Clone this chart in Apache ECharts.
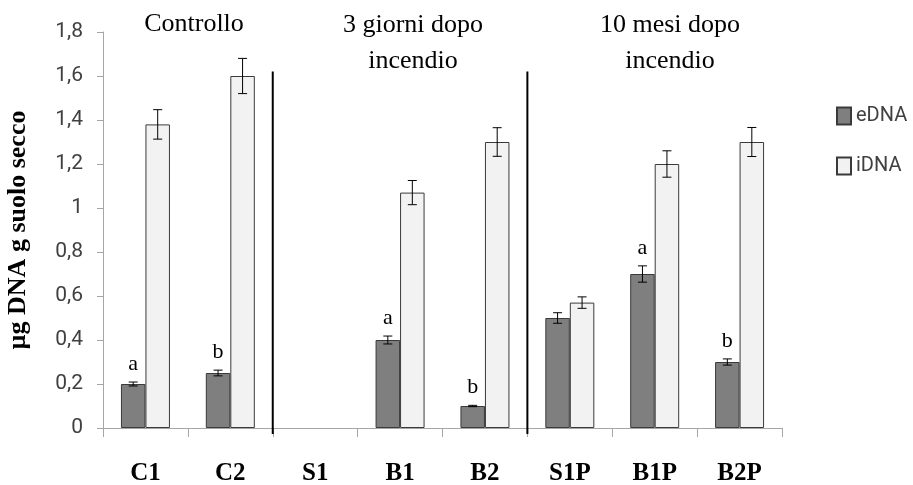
<!DOCTYPE html>
<html>
<head>
<meta charset="utf-8">
<script src="https://cdn.jsdelivr.net/npm/echarts@6/dist/echarts.min.js"></script>
<style>
  html, body { margin: 0; padding: 0; background: #fff; }
  #chart { width: 913px; height: 485px; }
</style>
</head>
<body>
<div id="chart"></div>
<script>
// Sampling sites
const categories = ['C1', 'C2', 'S1', 'B1', 'B2', 'S1P', 'B1P', 'B2P'];

// Extracellular DNA (µg DNA / g dry soil) and its standard error
const eDNA    = [0.20, 0.25, 0, 0.40, 0.10, 0.50, 0.70, 0.30];
const eDNAErr = [0.009, 0.013, 0, 0.018, 0.003, 0.024, 0.037, 0.014];

// Intracellular DNA and its standard error
const iDNA    = [1.38, 1.60, 0, 1.07, 1.30, 0.57, 1.20, 1.30];
const iDNAErr = [0.067, 0.080, 0, 0.055, 0.065, 0.026, 0.060, 0.066];

// Significance letters over the eDNA bars
const eDNALetters = ['a', 'b', '', 'a', 'b', '', 'a', 'b'];

// Y axis tick labels (Italian decimal comma)
const yTickLabels = ['0', '0,2', '0,4', '0,6', '0,8', '1', '1,2', '1,4', '1,6', '1,8'];

// Treatment groups written above the plot
const groupTitles = ['Controllo', '3 giorni dopo\nincendio', '10 mesi dopo\nincendio'];

// Vertical dividers are drawn after these category indices
const dividersAfter = [1, 4];

const BAR_W = 24.5;
const CAP_W = 9;
const DIVIDER_TOP = 1.62;

const serif = '"Liberation Serif", "Times New Roman", serif';
const sans = 'Roboto, "Open Sans", sans-serif';

const chart = echarts.init(document.getElementById('chart'), null, { renderer: 'canvas' });

function barData(values) {
  return values.map(v => v === 0 ? { value: 0, itemStyle: { borderWidth: 0 } } : v);
}

function errorRenderer(side, withLetters) {
  return function (params, api) {
    const i = api.value(0), v = api.value(1), e = api.value(2);
    const children = [];
    const x = api.coord([i, v])[0] + side * BAR_W / 2;
    const top = api.coord([i, v + e])[1];
    const bot = api.coord([i, v - e])[1];
    const style = { stroke: '#000', lineWidth: 1 };
    if (e > 0) {
      children.push(
        { type: 'line', shape: { x1: x, y1: top, x2: x, y2: bot }, style },
        { type: 'line', shape: { x1: x - CAP_W / 2, y1: top, x2: x + CAP_W / 2, y2: top }, style },
        { type: 'line', shape: { x1: x - CAP_W / 2, y1: bot, x2: x + CAP_W / 2, y2: bot }, style }
      );
    }
    if (withLetters && eDNALetters[i]) {
      children.push({
        type: 'text',
        x: x, y: top - 7,
        style: {
          text: eDNALetters[i], fill: '#000',
          font: '22px ' + serif,
          textAlign: 'center', textVerticalAlign: 'bottom'
        }
      });
    }
    return { type: 'group', children };
  };
}

const groupCentersX = [194, 413, 670];

const option = {
  animation: false,
  backgroundColor: '#fff',
  grid: { left: 103, right: 131, top: 32, bottom: 57, containLabel: false, outerBoundsMode: 'none' },
  legend: {
    data: ['eDNA', 'iDNA'],
    orient: 'vertical',
    left: 831, top: 101,
    itemWidth: 14, itemHeight: 17, itemGap: 30,
    icon: 'rect',
    textStyle: { fontFamily: sans, fontSize: 20, color: '#404040' }
  },
  graphic: groupTitles.map((t, k) => ({
    type: 'text',
    x: groupCentersX[k],
    y: k === 0 ? 24 : 43,
    style: {
      text: t, fill: '#000',
      font: '26px ' + serif,
      lineHeight: 36,
      textAlign: 'center', textVerticalAlign: 'middle'
    }
  })),
  xAxis: {
    type: 'category',
    data: categories,
    axisLine: { lineStyle: { color: '#a6a6a6', width: 1 } },
    axisTick: { show: true, length: 9, lineStyle: { color: '#a6a6a6' } },
    axisLabel: { fontFamily: serif, fontWeight: 'bold', fontSize: 25, color: '#000', margin: 33 },
    splitLine: { show: false }
  },
  yAxis: {
    type: 'value',
    min: 0, max: 1.8, interval: 0.2,
    name: 'µg DNA g suolo secco',
    nameLocation: 'middle',
    nameGap: 72,
    nameRotate: 90,
    nameTextStyle: { fontFamily: serif, fontWeight: 'bold', fontSize: 26, color: '#000' },
    axisLine: { show: true, lineStyle: { color: '#a6a6a6', width: 1 } },
    axisTick: { show: true, length: 6, lineStyle: { color: '#a6a6a6' } },
    axisLabel: {
      fontFamily: sans, fontSize: 21, color: '#404040', margin: 20,
      formatter: v => yTickLabels[Math.round(v / 0.2)]
    },
    splitLine: { show: false }
  },
  series: [
    {
      name: 'eDNA', type: 'bar', data: barData(eDNA),
      barWidth: BAR_W, barGap: '0%',
      itemStyle: { color: '#7f7f7f', borderColor: '#3a3a3a', borderWidth: 1 }
    },
    {
      name: 'iDNA', type: 'bar', data: barData(iDNA),
      barWidth: BAR_W, barGap: '0%',
      itemStyle: { color: '#f2f2f2', borderColor: '#3a3a3a', borderWidth: 1 }
    },
    {
      name: 'eDNA err', type: 'custom', z: 5,
      renderItem: errorRenderer(-1, true),
      encode: { x: 0, y: 1 },
      data: eDNA.map((v, i) => [i, v, eDNAErr[i]])
    },
    {
      name: 'iDNA err', type: 'custom', z: 5,
      renderItem: errorRenderer(1, false),
      encode: { x: 0, y: 1 },
      data: iDNA.map((v, i) => [i, v, iDNAErr[i]])
    },
    {
      name: 'dividers', type: 'custom', z: 6, clip: false,
      renderItem: function (params, api) {
        const i = api.value(0);
        const x = api.coord([i, 0])[0] + api.size([1, 0])[0] / 2;
        const y1 = api.coord([i, DIVIDER_TOP])[1];
        const y2 = api.coord([i, 0])[1] + 6;
        return { type: 'line', shape: { x1: x, y1, x2: x, y2 }, style: { stroke: '#000', lineWidth: 2 } };
      },
      encode: { x: 0, y: 1 },
      data: dividersAfter.map(i => [i, 0])
    }
  ]
};

chart.setOption(option);
</script>
</body>
</html>
